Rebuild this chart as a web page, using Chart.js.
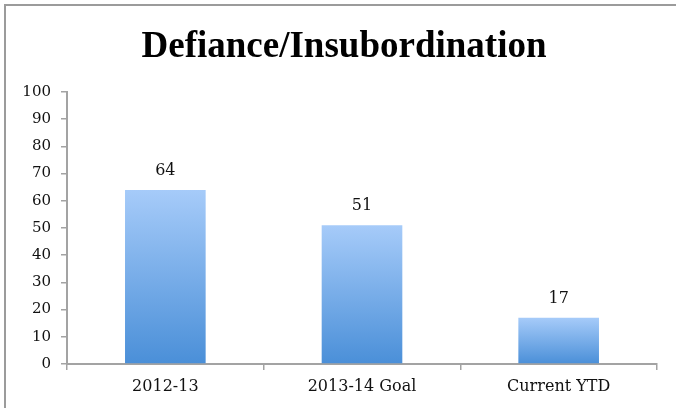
<!DOCTYPE html>
<html>
<head>
<meta charset="utf-8">
<script src="https://cdn.jsdelivr.net/npm/chart.js@4/dist/chart.umd.min.js"></script>
<style>
  html, body { margin: 0; padding: 0; background: #fff; }
  #wrap { position: relative; width: 676px; height: 408px; overflow: hidden; }
  #frame {
    position: absolute; left: 4px; top: 4px; width: 700px; height: 420px;
    border-top: 2px solid #9b9b9b; border-left: 2px solid #9b9b9b;
    pointer-events: none;
  }
  canvas { position: absolute; left: 0; top: 0; }
</style>
</head>
<body>
<div id="wrap">
  <canvas id="chart" width="676" height="408"></canvas>
  <div id="frame"></div>
</div>
<script>
// Chart values
const chartTitle = 'Defiance/Insubordination';
const categories = ['2012-13', '2013-14 Goal', 'Current YTD'];
const values = [64, 51, 17];
const yTicks = [0, 10, 20, 30, 40, 50, 60, 70, 80, 90, 100];

const titleFont = '"Liberation Serif", "Times New Roman", serif';
const labelFont = '"DejaVu Serif", serif';
const axisGray = '#a3a3a3';

// vertical gradient per bar, from its top down to the baseline
function barGradient(context) {
  const chart = context.chart;
  const y = chart.scales.y;
  if (!chart.chartArea || !y) return '#7aaee9';
  const top = y.getPixelForValue(context.raw);
  const base = y.getPixelForValue(0);
  const g = chart.ctx.createLinearGradient(0, top, 0, base);
  g.addColorStop(0, '#a6cbf9');
  g.addColorStop(1, '#4a8fd8');
  return g;
}

// numbers above each bar
const valueLabels = {
  id: 'valueLabels',
  afterDatasetsDraw(chart) {
    const ctx = chart.ctx;
    const meta = chart.getDatasetMeta(0);
    ctx.save();
    ctx.font = '16px ' + labelFont;
    ctx.fillStyle = '#111';
    ctx.textAlign = 'center';
    ctx.textBaseline = 'middle';
    meta.data.forEach((bar, i) => {
      ctx.fillText(String(values[i]), bar.x, bar.y - 19);
    });
    ctx.restore();
  }
};

// centred heading above the plot
const heading = {
  id: 'heading',
  afterDraw(chart) {
    const ctx = chart.ctx;
    ctx.save();
    ctx.font = 'bold 37px ' + titleFont;
    ctx.fillStyle = '#000';
    ctx.textAlign = 'center';
    ctx.textBaseline = 'middle';
    ctx.fillText(chartTitle, 344, 47);
    ctx.restore();
  }
};

new Chart(document.getElementById('chart'), {
  type: 'bar',
  data: {
    labels: categories,
    datasets: [{
      data: values,
      backgroundColor: barGradient,
      borderWidth: 0,
      categoryPercentage: 1,
      barPercentage: 0.41
    }]
  },
  options: {
    responsive: false,
    animation: false,
    events: [],
    layout: { padding: { top: 92, right: 19, bottom: 0, left: 0 } },
    plugins: {
      legend: { display: false },
      tooltip: { enabled: false },
      title: { display: false }
    },
    scales: {
      x: {
        grid: {
          offset: true,
          drawOnChartArea: false,
          tickLength: 6,
          color: axisGray,
          lineWidth: 1.5
        },
        border: { color: axisGray, width: 2 },
        ticks: {
          color: '#111',
          font: { family: labelFont, size: 16 },
          padding: 7
        },
        afterFit(scale) { scale.height = 44; }
      },
      y: {
        min: 0,
        max: 100,
        afterBuildTicks(scale) { scale.ticks = yTicks.map(v => ({ value: v })); },
        grid: {
          drawOnChartArea: false,
          tickLength: 6,
          color: axisGray,
          lineWidth: 1.5
        },
        border: { color: axisGray, width: 2 },
        ticks: {
          color: '#111',
          font: { family: labelFont, size: 15 },
          padding: 10
        },
        afterFit(scale) { scale.width = 67; }
      }
    }
  },
  plugins: [valueLabels, heading]
});
</script>
</body>
</html>
